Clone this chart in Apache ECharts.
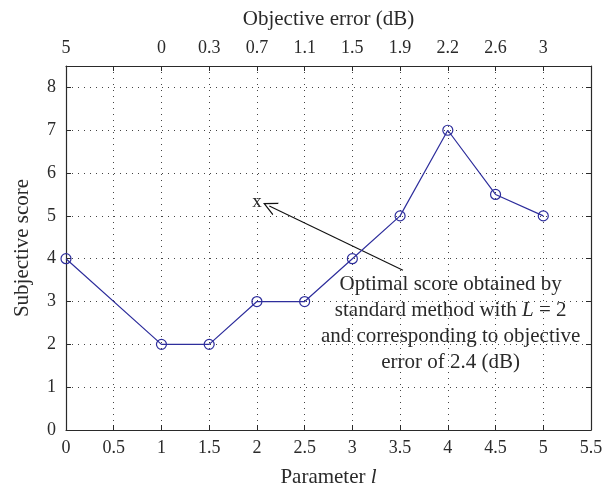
<!DOCTYPE html>
<html>
<head>
<meta charset="utf-8">
<script src="https://cdn.jsdelivr.net/npm/echarts@6/dist/echarts.min.js"></script>
<style>
  html, body { margin: 0; padding: 0; background: #fff; }
  #chart { width: 613px; height: 493px; }
</style>
</head>
<body>
<div id="chart"></div>
<script>
// Parameter l values and the subjective score measured at each
const paramL = [0, 1, 1.5, 2, 2.5, 3, 3.5, 4, 4.5, 5];
const subjectiveScore = [4, 2, 2, 3, 3, 4, 5, 7, 5.5, 5];

// Objective error (dB) printed on the top axis, one entry per 0.5 step of l
const objectiveErrorLabels = ['5', '', '0', '0.3', '0.7', '1.1', '1.5', '1.9', '2.2', '2.6', '3', ''];

// Annotation: marker for the standard method and its explanatory note
const optimalMark = [2.0, 5.32];
const arrowFrom = [3.53, 3.73];
const arrowTo = [2.13, 5.23];
const noteAt = [4.03, 2.48];

const FONT = '"Liberation Serif", "DejaVu Serif", serif';
const INK = '#2a2a2a';
const BLUE = '#2e2e9c';

const gridLine = { show: true, lineStyle: { color: '#444', width: 1, type: [1, 5] } };
const frame = { show: true, onZero: false, lineStyle: { color: INK, width: 1.2 } };
const innerTick = { show: true, inside: true, length: 5, lineStyle: { color: INK, width: 1 } };
const tickFont = { fontFamily: FONT, fontSize: 18, color: INK };
const nameFont = { fontFamily: FONT, fontSize: 21, color: INK };

const chart = echarts.init(document.getElementById('chart'), null, { renderer: 'canvas' });

chart.setOption({
  backgroundColor: '#fff',
  animation: false,
  grid: { left: 66, right: 22, top: 66, bottom: 60 },
  xAxis: [
    {
      type: 'value', position: 'bottom', min: 0, max: 5.5, interval: 0.5,
      axisLine: frame, axisTick: innerTick, splitLine: gridLine,
      axisLabel: Object.assign({ margin: 9, formatter: v => String(+v.toFixed(1)) }, tickFont),
      name: '{n|Parameter }{i|l}', nameLocation: 'middle', nameGap: 37,
      nameTextStyle: {
        rich: {
          n: nameFont,
          i: Object.assign({ fontStyle: 'italic' }, nameFont)
        }
      }
    },
    {
      type: 'value', position: 'top', min: 0, max: 5.5, interval: 0.5,
      axisLine: frame, axisTick: innerTick, splitLine: { show: false },
      axisLabel: Object.assign({
        margin: 9,
        formatter: v => objectiveErrorLabels[Math.round(v / 0.5)] || ''
      }, tickFont),
      name: 'Objective error (dB)', nameLocation: 'middle', nameGap: 36,
      nameTextStyle: nameFont
    }
  ],
  yAxis: [
    {
      type: 'value', position: 'left', min: 0, max: 8.5, interval: 1,
      axisLine: frame, axisTick: innerTick, splitLine: gridLine,
      axisLabel: Object.assign({
        margin: 10,
        formatter: v => (Number.isInteger(v) ? String(v) : '')
      }, tickFont),
      name: 'Subjective score', nameLocation: 'middle', nameGap: 33,
      nameTextStyle: nameFont
    },
    {
      type: 'value', position: 'right', min: 0, max: 8.5, interval: 1,
      axisLine: frame, axisTick: innerTick, splitLine: { show: false },
      axisLabel: { show: false }
    }
  ],
  series: [
    {
      type: 'line',
      xAxisIndex: 0, yAxisIndex: 0,
      data: paramL.map((x, i) => [x, subjectiveScore[i]]),
      symbol: 'circle', symbolSize: 10,
      showAllSymbol: true,
      lineStyle: { color: BLUE, width: 1.2 },
      itemStyle: { color: 'transparent', borderColor: BLUE, borderWidth: 1.2 },
      z: 5,
      markLine: {
        silent: true,
        symbol: ['none', 'path://M0,12 L5,0 L10,12 L9,12 L5,2.4 L1,12 Z'],
        symbolSize: [14, 14],
        lineStyle: { color: '#111', width: 1.1, type: 'solid' },
        label: { show: false },
        data: [[{ coord: arrowFrom }, { coord: arrowTo }]]
      },
      markPoint: {
        silent: true,
        symbol: 'circle', symbolSize: 0,
        itemStyle: { color: 'transparent' },
        data: [
          {
            coord: optimalMark,
            label: {
              show: true, position: 'inside', formatter: 'x',
              fontFamily: FONT, fontSize: 19, color: INK
            }
          },
          {
            coord: noteAt,
            label: {
              show: true, position: 'inside', align: 'center', verticalAlign: 'middle',
              formatter: [
                '{t|Optimal score obtained by}',
                '{t|standard method with }{it|L}{t| = 2}',
                '{t|and corresponding to objective}',
                '{t|error of 2.4 (dB)}'
              ].join('\n'),
              rich: {
                t: { fontFamily: FONT, fontSize: 21, color: INK, lineHeight: 26 },
                it: { fontFamily: FONT, fontSize: 21, color: INK, lineHeight: 26, fontStyle: 'italic' }
              }
            }
          }
        ]
      }
    }
  ]
});
</script>
</body>
</html>
